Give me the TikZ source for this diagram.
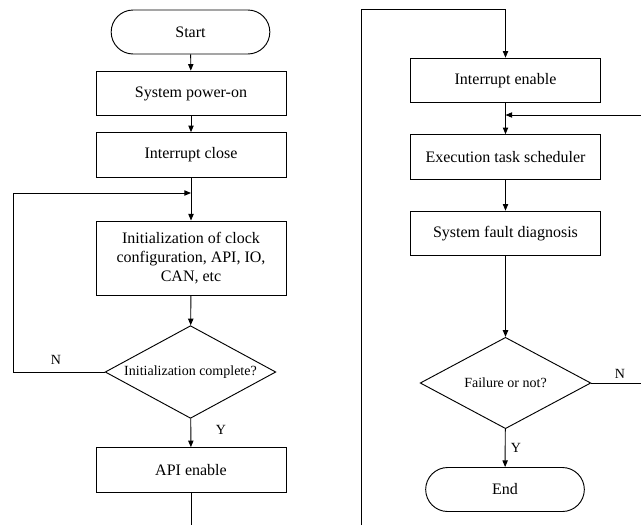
\documentclass[tikz,border=0pt]{standalone}
\usepackage{fontspec}
\setmainfont{Liberation Serif}
\usetikzlibrary{shapes.geometric,arrows.meta}
\begin{document}
\begin{tikzpicture}[x=0.75pt, y=-0.75pt, >={Triangle[length=5pt,width=4pt]}, line width=0.7pt,
  block/.style={draw, rectangle, minimum width=142.5pt, minimum height=33.5pt, align=center, font=\fontsize{12}{14}\selectfont},
  term/.style={draw, rectangle, rounded corners=16.5pt, minimum width=119pt, minimum height=33pt, font=\fontsize{12}{14}\selectfont},
  decide/.style={draw, diamond, aspect=1.84, inner sep=0pt, minimum width=128pt, minimum height=69.5pt, font=\fontsize{10.5}{12}\selectfont},
  lbl/.style={font=\fontsize{10.5}{12}\selectfont}]
  \useasboundingbox (0,0) rectangle (641,525);

  % left column
  \node [term] (start) at (190.5,32) {Start};
  \node [block] (power) at (191,93.5) {System power-on};
  \node [block] (iclose) at (191,155) {Interrupt close};
  \node [block, minimum height=55.5pt] (init) at (191,258) {Initialization of clock\\configuration, API, IO,\\CAN, etc};
  \node [decide] (chk1) at (190.5,372) {Initialization complete?};
  \node [block] (api) at (191,470) {API enable};
  \coordinate (j1) at (191,193);
  \coordinate (loopL) at (13,193);
  \coordinate (outL) at (191,525);

  \draw [->] (start) -- (power);
  \draw [->] (power) -- (iclose);
  \draw [->] (iclose) -- (init);
  \draw [->] (init) -- (chk1);
  \draw [->] (chk1.west) -| (loopL) -- (j1);
  \node [lbl] (n1) at (56,360) {N};
  \draw [->] (chk1) -- (api);
  \node [lbl] (y1) at (221,430) {Y};
  \draw (api) -- (outL);

  % right column
  \node [block] (ien) at (505.5,80.5) {Interrupt enable};
  \node [block] (sched) at (505.5,157) {Execution task scheduler};
  \node [block] (diag) at (505.5,233.5) {System fault diagnosis};
  \node [decide, minimum height=68.5pt] (chk2) at (505.5,383) {Failure or not?};
  \node [term] (finish) at (505,489.5) {End};
  \coordinate (inR) at (361,525);
  \coordinate (topR) at (361,9.5);
  \coordinate (j2) at (505.5,115);
  \coordinate (backR) at (641,115);
  \coordinate (outR) at (641,383);

  \draw [->] (inR) -- (topR) -| (ien.north);
  \draw [->] (ien) -- (sched);
  \draw [->] (backR) -- (j2);
  \draw [->] (sched) -- (diag);
  \draw [->] (diag) -- (chk2);
  \draw (chk2.east) -- (outR);
  \node [lbl] (n2) at (620,374) {N};
  \draw [->] (chk2) -- (finish);
  \node [lbl] (y2) at (516,448) {Y};
\end{tikzpicture}
\end{document}
